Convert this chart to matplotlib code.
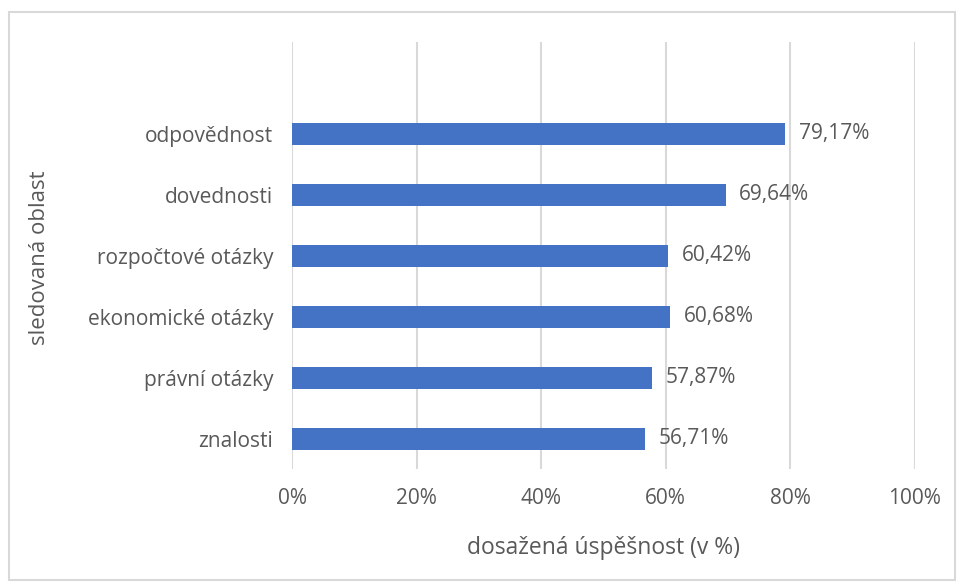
import matplotlib
matplotlib.use("Agg")
import matplotlib.pyplot as plt
from matplotlib.patches import Rectangle
from matplotlib.ticker import FuncFormatter

categories = ["znalosti", "právní otázky", "ekonomické otázky",
              "rozpočtové otázky", "dovednosti", "odpovědnost"]
values = [56.71, 57.87, 60.68, 60.42, 69.64, 79.17]
x_ticks = [0, 20, 40, 60, 80, 100]

TEXT = "#595959"
BAR = "#4472C4"
GRID = "#d9d9d9"
plt.rcParams["font.family"] = ["Open Sans", "DejaVu Sans"]

fig = plt.figure(figsize=(9.57, 5.83), dpi=100)
ax = fig.add_axes([0.3056, 0.1955, 0.65, 0.7324])

y = range(len(categories))
ax.barh(y, values, height=0.36, color=BAR, zorder=3)
for yi, v in zip(y, values):
    ax.text(v + 2.2, yi, f"{v:.2f}%".replace(".", ","), va="center", ha="left",
            fontsize=15, color=TEXT)

ax.set_xlim(0, 100)
ax.set_ylim(-0.5, 6.5)
ax.set_xticks(x_ticks)
ax.xaxis.set_major_formatter(FuncFormatter(lambda v, p: f"{v:.0f}%"))
ax.set_yticks(list(y))
ax.set_yticklabels(categories)
ax.tick_params(axis="both", length=0, labelsize=15, labelcolor=TEXT)
ax.tick_params(axis="y", pad=14)
ax.tick_params(axis="x", pad=14)
ax.grid(axis="x", color=GRID, linewidth=1.5, zorder=0)
for s in ax.spines.values():
    s.set_visible(False)

ax.set_xlabel("dosažená úspěšnost (v %)", fontsize=16.5, color=TEXT, labelpad=19)
fig.text(40 / 957, 1 - 258 / 583, "sledovaná oblast", rotation=90,
         ha="center", va="center", fontsize=16, color=TEXT)

fig.patches.append(Rectangle((9 / 957, 3 / 583), 946 / 957, 568 / 583,
                             transform=fig.transFigure, fill=False,
                             edgecolor=GRID, linewidth=1.5))

fig.savefig("out.png", dpi=100)
plt.close(fig)
